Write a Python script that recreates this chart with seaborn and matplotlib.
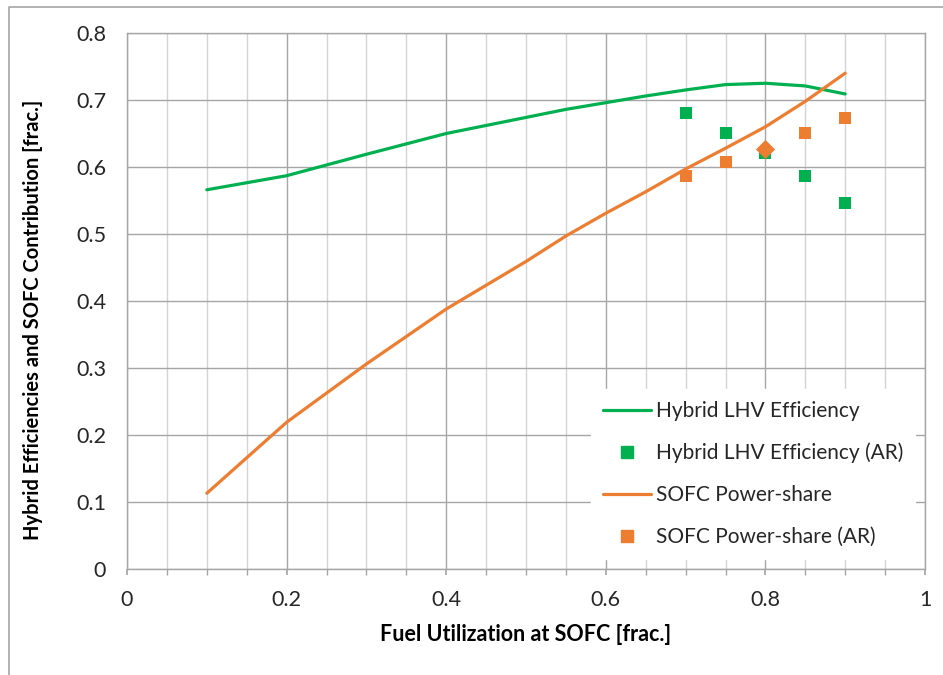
import matplotlib
matplotlib.use("Agg")
import matplotlib.pyplot as plt
from matplotlib.lines import Line2D
from matplotlib.ticker import MultipleLocator, FuncFormatter
import seaborn as sns
import pandas as pd

# Fuel utilization at the SOFC
fuel_util = [0.1, 0.2, 0.3, 0.4, 0.5, 0.55, 0.6, 0.65, 0.7, 0.75, 0.8, 0.85, 0.9]
hybrid_lhv_eff = [0.566, 0.587, 0.619, 0.650, 0.674, 0.686, 0.696, 0.706, 0.715,
                  0.723, 0.725, 0.721, 0.709]
sofc_power_share = [0.113, 0.219, 0.306, 0.388, 0.459, 0.497, 0.531, 0.563, 0.597,
                    0.628, 0.660, 0.698, 0.740]

# AR reference points
ar_util = [0.7, 0.75, 0.8, 0.85, 0.9]
ar_hybrid_eff = [0.680, 0.651, 0.621, 0.587, 0.547]
ar_power_share = [0.586, 0.607, 0.627, 0.651, 0.673]
ar_power_markers = ["s", "s", "D", "s", "s"]

GREEN = "#00B050"
ORANGE = "#ED7D31"

sns.set_theme(style="white")
plt.rcParams["font.family"] = ["Lato", "DejaVu Sans"]

curves = pd.DataFrame({"u": fuel_util, "eff": hybrid_lhv_eff, "share": sofc_power_share})
ar = pd.DataFrame({"u": ar_util, "eff": ar_hybrid_eff, "share": ar_power_share,
                   "mk": ar_power_markers})

fig = plt.figure(figsize=(9.43, 6.75), dpi=100)
ax = fig.add_axes([127 / 943, 1 - 569 / 675, (925 - 127) / 943, (569 - 33) / 675])

sns.lineplot(data=curves, x="u", y="eff", ax=ax, color=GREEN, linewidth=2.3,
             label="Hybrid LHV Efficiency", zorder=3)
sns.scatterplot(data=ar, x="u", y="eff", ax=ax, color=GREEN, marker="s", s=75,
                linewidth=0, label="Hybrid LHV Efficiency (AR)", zorder=4)
sns.lineplot(data=curves, x="u", y="share", ax=ax, color=ORANGE, linewidth=2.3,
             label="SOFC Power-share", zorder=3)
for mk, grp in ar.groupby("mk"):
    sns.scatterplot(data=grp, x="u", y="share", ax=ax, color=ORANGE, marker=mk,
                    s=75 if mk == "s" else 95, linewidth=0, zorder=5, legend=False)

ax.set_xlim(0, 1)
ax.set_ylim(0, 0.8)
ax.xaxis.set_major_locator(MultipleLocator(0.2))
ax.xaxis.set_minor_locator(MultipleLocator(0.05))
ax.yaxis.set_major_locator(MultipleLocator(0.1))
ax.xaxis.set_major_formatter(FuncFormatter(lambda v, p: f"{v:g}"))
ax.yaxis.set_major_formatter(FuncFormatter(lambda v, p: f"{v:g}"))

ax.grid(which="major", axis="both", color="#a6a6a6", linewidth=1.0)
ax.grid(which="minor", axis="x", color="#d4d4d4", linewidth=1.0)
ax.set_axisbelow(True)
for sp in ax.spines.values():
    sp.set_color("#a6a6a6")
    sp.set_linewidth(1.0)

ax.tick_params(axis="x", which="both", bottom=True, direction="out", length=4,
               color="#a6a6a6", labelsize=15.5, labelcolor="#262626", pad=11)
ax.tick_params(axis="y", left=False, labelsize=15.5, labelcolor="#262626", pad=9)

ax.set_xlabel("Fuel Utilization at SOFC [frac.]", fontsize=15.5, fontweight="bold",
              color="black", labelpad=10)
ax.set_ylabel("Hybrid Efficiencies and SOFC Contribution [frac.]", fontsize=14.5,
              fontweight="bold", color="black")
ax.yaxis.set_label_coords(-0.105, 0.465)

handles = [
    Line2D([], [], color=GREEN, linewidth=2.3),
    Line2D([], [], color=GREEN, marker="s", linestyle="none", markersize=8),
    Line2D([], [], color=ORANGE, linewidth=2.3),
    Line2D([], [], color=ORANGE, marker="s", linestyle="none", markersize=8),
]
labels = ["Hybrid LHV Efficiency", "Hybrid LHV Efficiency (AR)",
          "SOFC Power-share", "SOFC Power-share (AR)"]
leg = ax.legend(handles, labels, loc="lower right", bbox_to_anchor=(1.0, 0.0),
                frameon=True, fancybox=False, fontsize=15, handlelength=2.3,
                handletextpad=0.25, labelspacing=1.05, borderpad=0.55,
                borderaxespad=0.5)
leg.get_frame().set_facecolor("white")
leg.get_frame().set_edgecolor("white")
leg.get_frame().set_alpha(1.0)
for t in leg.get_texts():
    t.set_color("#262626")

# outer chart-area border
fig.add_artist(Line2D([9 / 943, 9 / 943, 1.0], [0.0, 1 - 7 / 675, 1 - 7 / 675],
                      transform=fig.transFigure, color="#a6a6a6", linewidth=1.2))

fig.savefig("out.png", dpi=100, facecolor="white")
